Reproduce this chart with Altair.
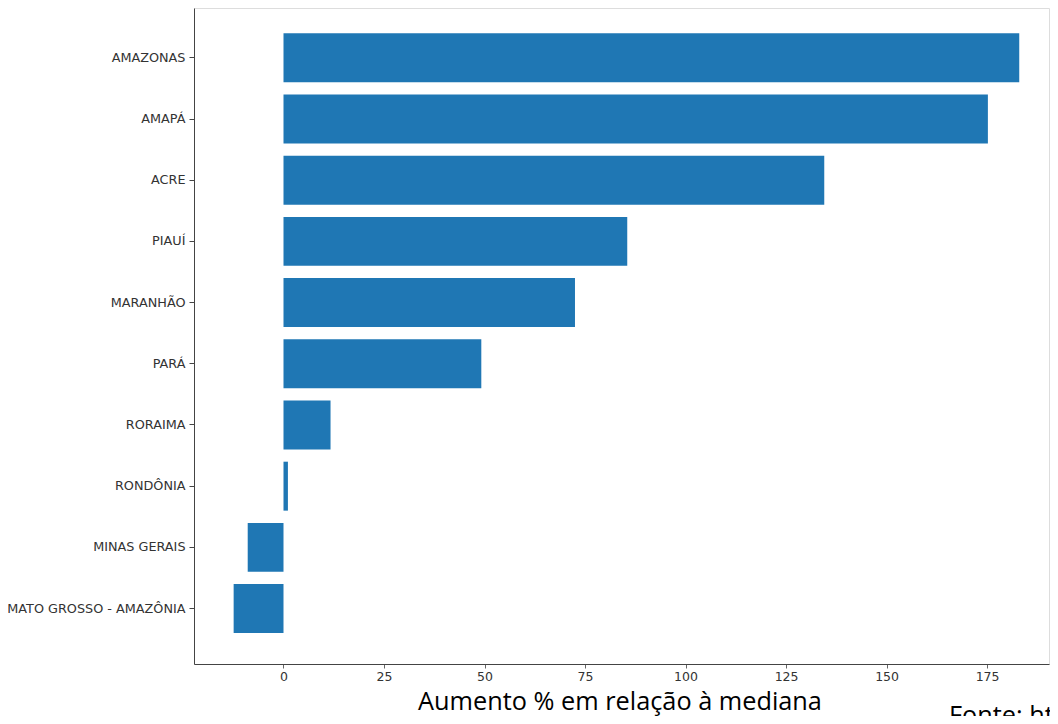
import altair as alt
import pandas as pd

estados = ["AMAZONAS", "AMAPÁ", "ACRE", "PIAUÍ", "MARANHÃO", "PARÁ",
           "RORAIMA", "RONDÔNIA", "MINAS GERAIS", "MATO GROSSO - AMAZÔNIA"]
aumento = [183.0, 175.2, 134.5, 85.5, 72.5, 49.2, 11.7, 1.1, -8.9, -12.4]
x_ticks = [0, 25, 50, 75, 100, 125, 150, 175]
x_title = "Aumento % em relação à mediana"
fonte = "Fonte: https://"

df = pd.DataFrame({"estado": estados, "aumento": aumento})

W, H = 855, 656

bars = alt.Chart(df).mark_bar(color="#1f77b4").encode(
    y=alt.Y("estado:N", sort=estados,
            scale=alt.Scale(paddingInner=0.2, paddingOuter=0.46, align=0.45),
            axis=alt.Axis(title=None, labelFont="DejaVu Sans", labelFontSize=12.8,
                          labelColor="#333333", tickColor="#444444", tickSize=5,
                          labelPadding=4, domain=True, domainColor="#444444",
                          grid=False)),
    x=alt.X("aumento:Q",
            scale=alt.Scale(domain=[-22.26, 190.4], nice=False, zero=False),
            axis=alt.Axis(title=x_title, values=x_ticks, labelFont="DejaVu Sans",
                          labelFontSize=12.5, labelColor="#333333",
                          tickColor="#666666", tickSize=4, labelPadding=2,
                          domain=True, domainColor="#444444", grid=False,
                          titleFont="Open Sans", titleFontSize=25.3,
                          titleFontWeight="normal", titleColor="#000000",
                          titleBaseline="alphabetic", titlePadding=27,
                          titleX=W / 2 - 2)),
)

src = alt.Chart(pd.DataFrame({"t": [fonte]})).mark_text(
    font="Open Sans", fontSize=25.3, align="left", baseline="alphabetic",
    color="#000000"
).encode(text="t:N", x=alt.value(755), y=alt.value(716))

chart = alt.layer(bars, src).properties(
    width=W, height=H,
    autosize=alt.AutoSizeParams(type="none"),
    padding={"left": 186, "top": 0, "right": 1, "bottom": 52},
).configure_view(stroke="#999999", strokeWidth=1).configure(background="white")

chart.save("out.html", embed_options={"renderer": "svg", "actions": False})
